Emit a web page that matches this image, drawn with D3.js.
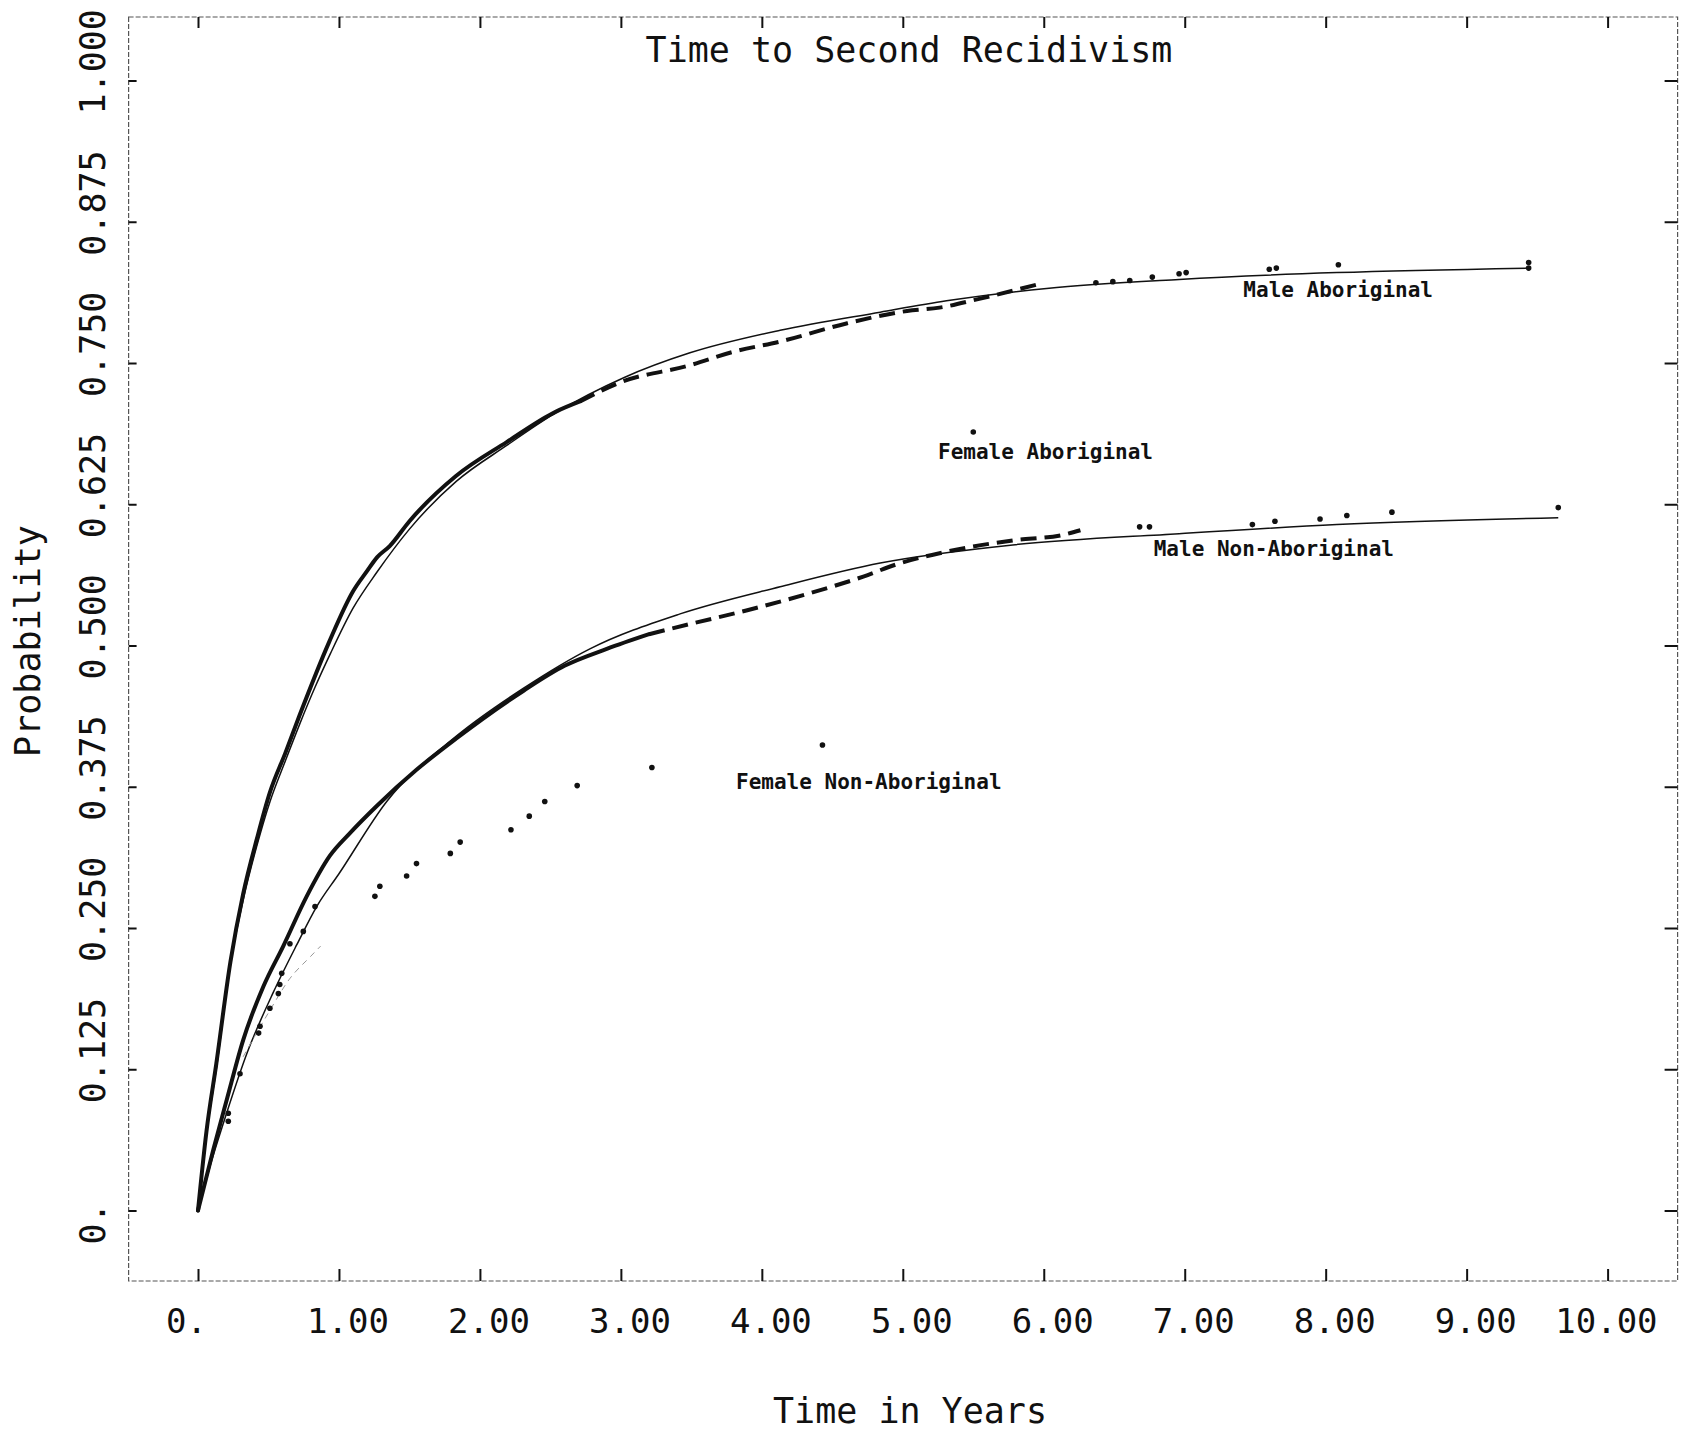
<!DOCTYPE html>
<html>
<head>
<meta charset="utf-8">
<script src="https://cdn.jsdelivr.net/npm/d3@7"></script>
<style>
  body { margin: 0; background: #fff; }
  svg text { font-family: "DejaVu Sans Mono", monospace; fill: #111; }
</style>
</head>
<body>
<svg id="chart" width="1682" height="1438"></svg>
<script>
//Data-----------------------------------------------------------------------------------------
var xTicks = [0, 1, 2, 3, 4, 5, 6, 7, 8, 9, 10];
var xTickLabels = ["0.", "1.00", "2.00", "3.00", "4.00", "5.00", "6.00", "7.00", "8.00", "9.00", "10.00"];
var yTicks = [0, 0.125, 0.25, 0.375, 0.5, 0.625, 0.75, 0.875, 1];
var yTickLabels = ["0.", "0.125", "0.250", "0.375", "0.500", "0.625", "0.750", "0.875", "1.000"];

var groupNames = ["Male Aboriginal", "Female Aboriginal", "Male Non-Aboriginal", "Female Non-Aboriginal"];

// fitted curves [years, probability]
var maleAbFit = [[0, 0], [0.062, 0.069], [0.133, 0.128], [0.227, 0.216], [0.321, 0.275], [0.416, 0.322],
  [0.511, 0.362], [0.62, 0.398], [0.72, 0.43], [0.83, 0.463], [0.94, 0.493], [1.10, 0.533], [1.27, 0.565],
  [1.50, 0.603], [1.83, 0.645], [2.19, 0.677], [2.54, 0.706], [3.02, 0.737], [3.49, 0.759], [4.13, 0.779],
  [4.84, 0.795], [5.31, 0.805], [6.02, 0.816], [6.96, 0.824], [8.08, 0.830], [9.45, 0.834]];
var maleNonAbFit = [[0, 0], [0.085, 0.039], [0.2, 0.085], [0.35, 0.14], [0.534, 0.193], [0.70, 0.235],
  [0.842, 0.269], [1.0, 0.298], [1.339, 0.362], [1.835, 0.42], [2.307, 0.462], [2.78, 0.497], [3.42, 0.528],
  [4.13, 0.552], [4.84, 0.573], [5.78, 0.589], [6.96, 0.599], [8.08, 0.607], [9.65, 0.613]];
var femNonAbFit = [[0.32, 0.136], [0.5, 0.175], [0.65, 0.205], [0.8, 0.225], [0.87, 0.234]];

// observed (empirical) estimates
var maleAbObs = [[0, 0], [0.06, 0.07], [0.13, 0.13], [0.23, 0.22], [0.32, 0.28], [0.42, 0.33], [0.51, 0.37],
  [0.62, 0.405], [0.72, 0.438], [0.93, 0.503], [1.10, 0.548], [1.20, 0.566], [1.27, 0.578], [1.36, 0.588],
  [1.50, 0.610], [1.83, 0.650], [2.19, 0.680], [2.54, 0.707], [2.71, 0.716], [3.0, 0.733], [3.49, 0.748],
  [3.8, 0.760], [4.13, 0.769], [4.60, 0.785], [5.03, 0.796], [5.26, 0.799], [5.55, 0.807], [5.97, 0.820],
  [6.37, 0.821], [6.49, 0.822], [6.61, 0.823], [6.77, 0.826], [6.96, 0.829], [7.01, 0.830], [7.60, 0.833],
  [7.65, 0.834], [8.09, 0.837], [9.44, 0.839], [9.44, 0.834]];
var maleNonAbObs = [[0, 0], [0.109, 0.054], [0.204, 0.098], [0.321, 0.151], [0.463, 0.198], [0.605, 0.234],
  [0.771, 0.278], [0.936, 0.314], [1.078, 0.334], [1.268, 0.358], [1.55, 0.39], [1.835, 0.418], [2.31, 0.46],
  [2.6, 0.482], [2.9, 0.497], [3.2, 0.51], [3.49, 0.519], [3.89, 0.531], [4.36, 0.547], [4.72, 0.561],
  [4.96, 0.572], [5.31, 0.583], [5.78, 0.593], [6.14, 0.598], [6.26, 0.602],
  [6.68, 0.605], [6.75, 0.605], [7.48, 0.607], [7.64, 0.610], [7.96, 0.612], [8.15, 0.615], [8.47, 0.618],
  [9.65, 0.622]];
var femNonAbObs = [[0.215, 0.079], [0.215, 0.086], [0.298, 0.121], [0.43, 0.157], [0.44, 0.163], [0.51, 0.179],
  [0.57, 0.192], [0.58, 0.200], [0.594, 0.210], [0.652, 0.236], [0.747, 0.247], [0.83, 0.269], [1.255, 0.278],
  [1.29, 0.287], [1.48, 0.296], [1.55, 0.307], [1.79, 0.316], [1.86, 0.326], [2.22, 0.337], [2.35, 0.349],
  [2.46, 0.362], [2.69, 0.376], [3.22, 0.392], [4.43, 0.412]];
var femAbObs = [[5.5, 0.689]];

//Setup----------------------------------------------------------------------------------------
var svg = d3.select("#chart");
var frame = { left: 128.6, right: 1677.6, top: 17, bottom: 1281 };

var x = d3.scaleLinear().domain([0, 10]).range([198, 1607.6]);
var y = d3.scaleLinear().domain([0, 1]).range([1210.5, 80.5]);

//Frame and ticks------------------------------------------------------------------------------
svg.append("rect")
  .attr("x", frame.left).attr("y", frame.top)
  .attr("width", frame.right - frame.left).attr("height", frame.bottom - frame.top)
  .attr("fill", "none").attr("stroke", "#555").attr("stroke-width", 1.2)
  .attr("stroke-dasharray", "5,2");

function tickAxis(axis, tx, ty) {
  var g = svg.append("g").attr("transform", "translate(" + tx + "," + ty + ")").call(axis);
  g.select(".domain").remove();
  g.selectAll(".tick line").attr("stroke", "#111").attr("stroke-width", 2);
  return g;
}
tickAxis(d3.axisBottom(x).tickValues(xTicks).tickSizeInner(-12).tickSizeOuter(0).tickFormat(""), 0, frame.bottom);
tickAxis(d3.axisTop(x).tickValues(xTicks).tickSizeInner(-11).tickSizeOuter(0).tickFormat(""), 0, frame.top);
tickAxis(d3.axisLeft(y).tickValues(yTicks).tickSizeInner(-8).tickSizeOuter(0).tickFormat(""), frame.left, 0);
tickAxis(d3.axisRight(y).tickValues(yTicks).tickSizeInner(-13).tickSizeOuter(0).tickFormat(""), frame.right, 0);

// tick labels
svg.append("g").selectAll("text")
  .data(xTicks)
  .enter().append("text")
  .attr("x", function(d, i) { return xTickLabels[i] === "0." ? x(d) - 32 : x(d) + 50; })
  .attr("y", 1333)
  .attr("text-anchor", function(d, i) { return xTickLabels[i] === "0." ? "start" : "end"; })
  .style("font-size", "34px")
  .text(function(d, i) { return xTickLabels[i]; });

svg.append("g").selectAll("text")
  .data(yTicks)
  .enter().append("text")
  .attr("transform", function(d) { return "translate(105," + (y(d) + 34) + ") rotate(-90)"; })
  .attr("text-anchor", "start")
  .style("font-size", "35px")
  .text(function(d, i) { return yTickLabels[i]; });

// titles
svg.append("text").attr("x", 909).attr("y", 62).attr("text-anchor", "middle")
  .style("font-size", "35px").text("Time to Second Recidivism");
svg.append("text").attr("x", 910).attr("y", 1423).attr("text-anchor", "middle")
  .style("font-size", "35px").text("Time in Years");
svg.append("text").attr("transform", "translate(40,641) rotate(-90)").attr("text-anchor", "middle")
  .style("font-size", "35px").text("Probability");

//Curves---------------------------------------------------------------------------------------
var line = d3.line()
  .x(function(d) { return x(d[0]); })
  .y(function(d) { return y(d[1]); })
  .curve(d3.curveMonotoneX);

function drawFit(data, color, width, dash) {
  svg.append("path").datum(data)
    .attr("d", line)
    .attr("fill", "none")
    .attr("stroke", color)
    .attr("stroke-width", width)
    .attr("stroke-dasharray", dash || null);
}

function drawDots(data) {
  svg.append("g").selectAll("circle")
    .data(data)
    .enter().append("circle")
    .attr("cx", function(d) { return x(d[0]); })
    .attr("cy", function(d) { return y(d[1]); })
    .attr("r", 2.8)
    .attr("fill", "#111");
}

// observed: solid where events are dense, dashed further out, single dots at the tail
function drawObserved(data, solidEnd, dashEnd) {
  var solid = data.filter(function(d) { return d[0] <= solidEnd; });
  var dashed = data.filter(function(d) { return d[0] >= solidEnd && d[0] <= dashEnd; });
  var dots = data.filter(function(d) { return d[0] > dashEnd; });
  svg.append("path").datum(solid).attr("d", line)
    .attr("fill", "none").attr("stroke", "#111").attr("stroke-width", 4)
    .attr("stroke-linecap", "round");
  svg.append("path").datum(dashed).attr("d", line)
    .attr("fill", "none").attr("stroke", "#111").attr("stroke-width", 4)
    .attr("stroke-dasharray", "16,8");
  drawDots(dots);
}

drawFit(maleAbFit, "#111", 1.5);
drawFit(maleNonAbFit, "#111", 1.5);
drawFit(femNonAbFit, "#999", 1, "6,5");
drawObserved(maleAbObs, 2.71, 5.97);
drawObserved(maleNonAbObs, 3.2, 6.26);
drawDots(femNonAbObs);
drawDots(femAbObs);

//Group labels---------------------------------------------------------------------------------
var labelSpots = [[7.416, 0.8087], [5.25, 0.6654], [6.78, 0.5792], [3.817, 0.3727]];
svg.append("g").selectAll("text")
  .data(groupNames)
  .enter().append("text")
  .attr("x", function(d, i) { return x(labelSpots[i][0]); })
  .attr("y", function(d, i) { return y(labelSpots[i][1]); })
  .style("font-size", "21px")
  .style("font-weight", "bold")
  .text(function(d) { return d; });
</script>
</body>
</html>
